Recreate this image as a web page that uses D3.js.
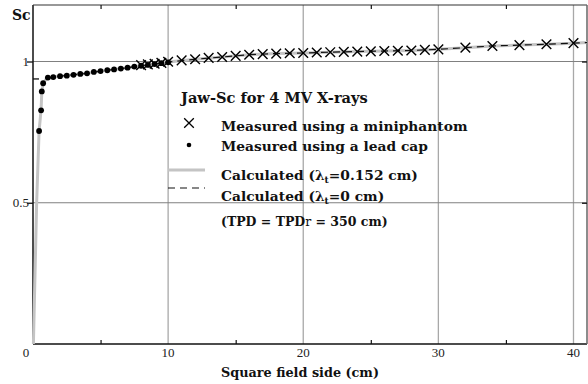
<!DOCTYPE html>
<html>
<head>
<meta charset="utf-8">
<script src="https://cdn.jsdelivr.net/npm/d3@7"></script>
<style>
  html, body { margin: 0; padding: 0; background: #fff; }
  svg { display: block; }
  .tick-label { font-family: "Liberation Serif", "DejaVu Serif", serif; font-size: 13px; fill: #222; }
  .bold { font-family: "DejaVu Serif", "Liberation Serif", serif; font-weight: bold; fill: #111; }
</style>
</head>
<body>
<svg id="chart" width="588" height="384"></svg>
<script>
// Jaw collimator scatter factor Sc vs. square field side, 4 MV X-rays

// Measured with a lead cap (field side in cm, Sc)
const leadCapX = [0.45, 0.6, 0.65, 0.75, 1.1, 1.5, 2, 2.5, 3, 3.5, 4, 4.5, 5, 5.5, 6, 6.5, 7, 7.5, 8, 8.5, 9, 9.5, 10];
const leadCapSc = [0.754, 0.827, 0.894, 0.923, 0.943, 0.945, 0.948, 0.950, 0.953, 0.956, 0.958, 0.963, 0.966, 0.969, 0.972, 0.975, 0.978, 0.982, 0.985, 0.988, 0.991, 0.994, 0.997];

// Measured with a miniphantom
const miniX = [8, 8.5, 9, 9.5, 10, 11, 12, 13, 14, 15, 16, 17, 18, 19, 20, 21, 22, 23, 24, 25, 26, 27, 28, 29, 30, 32, 34, 36, 38, 40];
const miniSc = [0.987, 0.990, 0.992, 0.995, 0.999, 1.004, 1.008, 1.013, 1.016, 1.020, 1.024, 1.026, 1.028, 1.029, 1.030, 1.032, 1.033, 1.034, 1.035, 1.036, 1.037, 1.038, 1.039, 1.041, 1.043, 1.049, 1.055, 1.058, 1.061, 1.065];

// Calculated, lambda_t = 0.152 cm
const calcTX = [0.03, 0.27, 0.45, 0.6, 0.65, 0.75, 1, 1.5, 2, 3, 4, 5, 6, 7, 8, 9, 10, 12, 14, 16, 18, 20, 22, 24, 26, 28, 30, 32, 34, 36, 38, 40, 41];
const calcTSc = [0, 0.5, 0.754, 0.83, 0.892, 0.921, 0.94, 0.945, 0.948, 0.953, 0.958, 0.966, 0.972, 0.978, 0.985, 0.991, 0.998, 1.008, 1.016, 1.024, 1.028, 1.030, 1.033, 1.035, 1.037, 1.039, 1.043, 1.049, 1.055, 1.058, 1.061, 1.065, 1.067];

// Calculated, lambda_t = 0 cm
const calc0X = [1, 1.5, 2, 3, 4, 5, 6, 7, 8, 9, 10, 12, 14, 16, 18, 20, 22, 24, 26, 28, 30, 32, 34, 36, 38, 40, 41];
const calc0Sc = [0.94, 0.945, 0.948, 0.953, 0.958, 0.966, 0.972, 0.978, 0.985, 0.991, 0.998, 1.008, 1.016, 1.024, 1.028, 1.030, 1.033, 1.035, 1.037, 1.039, 1.043, 1.049, 1.055, 1.058, 1.061, 1.065, 1.067];

// Axis ticks
const xMajorTicks = [0, 10, 20, 30, 40];
const xMinorTicks = [5, 15, 25, 35];
const yMajorTicks = [0.5, 1];
const yMinorTicks = [0.94];
const xGridValues = [10, 20, 30, 40];
const yGridValues = [0.5, 1];

const svg = d3.select("#chart");
const margin = { left: 33, right: 1, top: 5, bottom: 40 };
const W = 588, H = 384;
const x = d3.scaleLinear().domain([0, 41]).range([margin.left, W - margin.right]);
const y = d3.scaleLinear().domain([0, 1.2]).range([H - margin.bottom, margin.top]);

// Grid
svg.append("g").selectAll("line").data(xGridValues).join("line")
  .attr("x1", d => x(d)).attr("x2", d => x(d))
  .attr("y1", y(0)).attr("y2", y(1.2))
  .attr("stroke", "#a8a8a8").attr("stroke-width", 1.3);
svg.append("g").selectAll("line").data(yGridValues).join("line")
  .attr("x1", x(0)).attr("x2", x(41))
  .attr("y1", d => y(d)).attr("y2", d => y(d))
  .attr("stroke", "#808080").attr("stroke-width", 1.2);

// Frame: left, bottom and top dark, right grey
svg.append("line").attr("x1", x(0)).attr("x2", x(0)).attr("y1", y(0)).attr("y2", y(1.2))
  .attr("stroke", "#111").attr("stroke-width", 1.5);
svg.append("line").attr("x1", x(0)).attr("x2", x(41)).attr("y1", y(0)).attr("y2", y(0))
  .attr("stroke", "#111").attr("stroke-width", 1.5);
svg.append("line").attr("x1", x(0)).attr("x2", x(41)).attr("y1", y(1.2)).attr("y2", y(1.2))
  .attr("stroke", "#333").attr("stroke-width", 1.2);
svg.append("line").attr("x1", x(41)).attr("x2", x(41)).attr("y1", y(0)).attr("y2", y(1.2))
  .attr("stroke", "#666").attr("stroke-width", 1.5);

// Ticks
const bottomAxis = d3.axisBottom(x).tickValues(xMinorTicks).tickSizeInner(-4).tickSizeOuter(0).tickFormat("");
svg.append("g").attr("transform", `translate(0,${y(0)})`).call(bottomAxis)
  .call(g => g.select(".domain").remove())
  .call(g => g.selectAll(".tick line").attr("stroke", "#111").attr("stroke-width", 1.2));
const topAxis = d3.axisTop(x).tickValues(xMinorTicks).tickSizeInner(-4).tickSizeOuter(0).tickFormat("");
svg.append("g").attr("transform", `translate(0,${y(1.2)})`).call(topAxis)
  .call(g => g.select(".domain").remove())
  .call(g => g.selectAll(".tick line").attr("stroke", "#111").attr("stroke-width", 1.2));

const leftAxis = d3.axisLeft(y).tickValues(yMajorTicks).tickSizeInner(6).tickSizeOuter(0).tickFormat("");
svg.append("g").attr("transform", `translate(${x(0)},0)`).call(leftAxis)
  .call(g => g.select(".domain").remove())
  .call(g => g.selectAll(".tick line").attr("stroke", "#111").attr("stroke-width", 1.3));
const leftMinor = d3.axisLeft(y).tickValues(yMinorTicks).tickSizeInner(-6).tickSizeOuter(0).tickFormat("");
svg.append("g").attr("transform", `translate(${x(0)},0)`).call(leftMinor)
  .call(g => g.select(".domain").remove())
  .call(g => g.selectAll(".tick line").attr("stroke", "#111").attr("stroke-width", 1.3));
const rightAxis = d3.axisRight(y).tickValues(yMajorTicks).tickSizeInner(-5).tickSizeOuter(0).tickFormat("");
svg.append("g").attr("transform", `translate(${x(41)},0)`).call(rightAxis)
  .call(g => g.select(".domain").remove())
  .call(g => g.selectAll(".tick line").attr("stroke", "#111").attr("stroke-width", 1.3));

// Tick labels
svg.append("g").selectAll("text").data(xMajorTicks.filter(d => d > 0)).join("text")
  .attr("class", "tick-label").attr("x", d => x(d)).attr("y", y(0) + 13)
  .attr("text-anchor", "middle").text(d => d);
svg.append("text").attr("class", "tick-label").attr("x", x(0) - 7).attr("y", y(0) + 13)
  .attr("text-anchor", "middle").text("0");
svg.append("g").selectAll("text").data(yMajorTicks).join("text")
  .attr("class", "tick-label").attr("x", x(0) - 4).attr("y", d => y(d) + 4.5)
  .attr("text-anchor", "end").text(d => d);

// Axis titles
svg.append("text").attr("class", "bold").attr("x", 12).attr("y", 20)
  .attr("font-size", 14).text("Sc");
svg.append("text").attr("class", "bold").attr("x", 300).attr("y", 377)
  .attr("text-anchor", "middle").attr("font-size", 12.8).text("Square field side (cm)");

// Calculated curves
const line = d3.line().x(d => x(d[0])).y(d => y(d[1]));
svg.append("path").datum(d3.zip(calcTX, calcTSc)).attr("d", line)
  .attr("fill", "none").attr("stroke", "#c4c4c4").attr("stroke-width", 3);
svg.append("path").datum(d3.zip(calc0X, calc0Sc)).attr("d", line)
  .attr("fill", "none").attr("stroke", "#111").attr("stroke-width", 1.2)
  .attr("stroke-dasharray", "7,5");

// Lead cap dots
svg.append("g").selectAll("circle").data(d3.zip(leadCapX, leadCapSc)).join("circle")
  .attr("cx", d => x(d[0])).attr("cy", d => y(d[1])).attr("r", 2.9).attr("fill", "#000");

// Miniphantom crosses
const cross = d3.symbol().type(d3.symbolX).size(62);
svg.append("g").selectAll("path").data(d3.zip(miniX, miniSc)).join("path")
  .attr("transform", d => `translate(${x(d[0])},${y(d[1])})`)
  .attr("d", cross).attr("fill", "none").attr("stroke", "#000").attr("stroke-width", 1.4);

// Legend
const lg = svg.append("g");
lg.append("text").attr("class", "bold").attr("x", 181).attr("y", 103)
  .attr("font-size", 14.6).text("Jaw-Sc for 4 MV X-rays");
lg.append("path").attr("transform", "translate(189,123)").attr("d", cross)
  .attr("fill", "none").attr("stroke", "#000").attr("stroke-width", 1.3);
lg.append("text").attr("class", "bold").attr("x", 221).attr("y", 131).attr("font-size", 13.8)
  .text("Measured using a miniphantom");
lg.append("circle").attr("cx", 189).attr("cy", 145).attr("r", 2.3).attr("fill", "#000");
lg.append("text").attr("class", "bold").attr("x", 221).attr("y", 151).attr("font-size", 13.8)
  .text("Measured using a lead cap");
lg.append("line").attr("x1", 168).attr("x2", 205).attr("y1", 170).attr("y2", 170)
  .attr("stroke", "#c4c4c4").attr("stroke-width", 3);
const t1 = lg.append("text").attr("class", "bold").attr("x", 221).attr("y", 180).attr("font-size", 13.8);
t1.append("tspan").text("Calculated (λ");
t1.append("tspan").attr("font-size", 9).attr("dy", 3).text("t");
t1.append("tspan").attr("dy", -3).text("=0.152 cm)");
lg.append("line").attr("x1", 168).attr("x2", 205).attr("y1", 188).attr("y2", 188)
  .attr("stroke", "#111").attr("stroke-width", 1.2).attr("stroke-dasharray", "7,5");
const t2 = lg.append("text").attr("class", "bold").attr("x", 221).attr("y", 201).attr("font-size", 13.8);
t2.append("tspan").text("Calculated (λ");
t2.append("tspan").attr("font-size", 9).attr("dy", 3).text("t");
t2.append("tspan").attr("dy", -3).text("=0 cm)");
const t3 = lg.append("text").attr("class", "bold").attr("x", 221).attr("y", 226).attr("font-size", 12.5);
t3.append("tspan").text("(TPD = TPD");
t3.append("tspan").attr("font-weight", "normal").text("r");
t3.append("tspan").text(" = 350 cm)");
</script>
</body>
</html>
